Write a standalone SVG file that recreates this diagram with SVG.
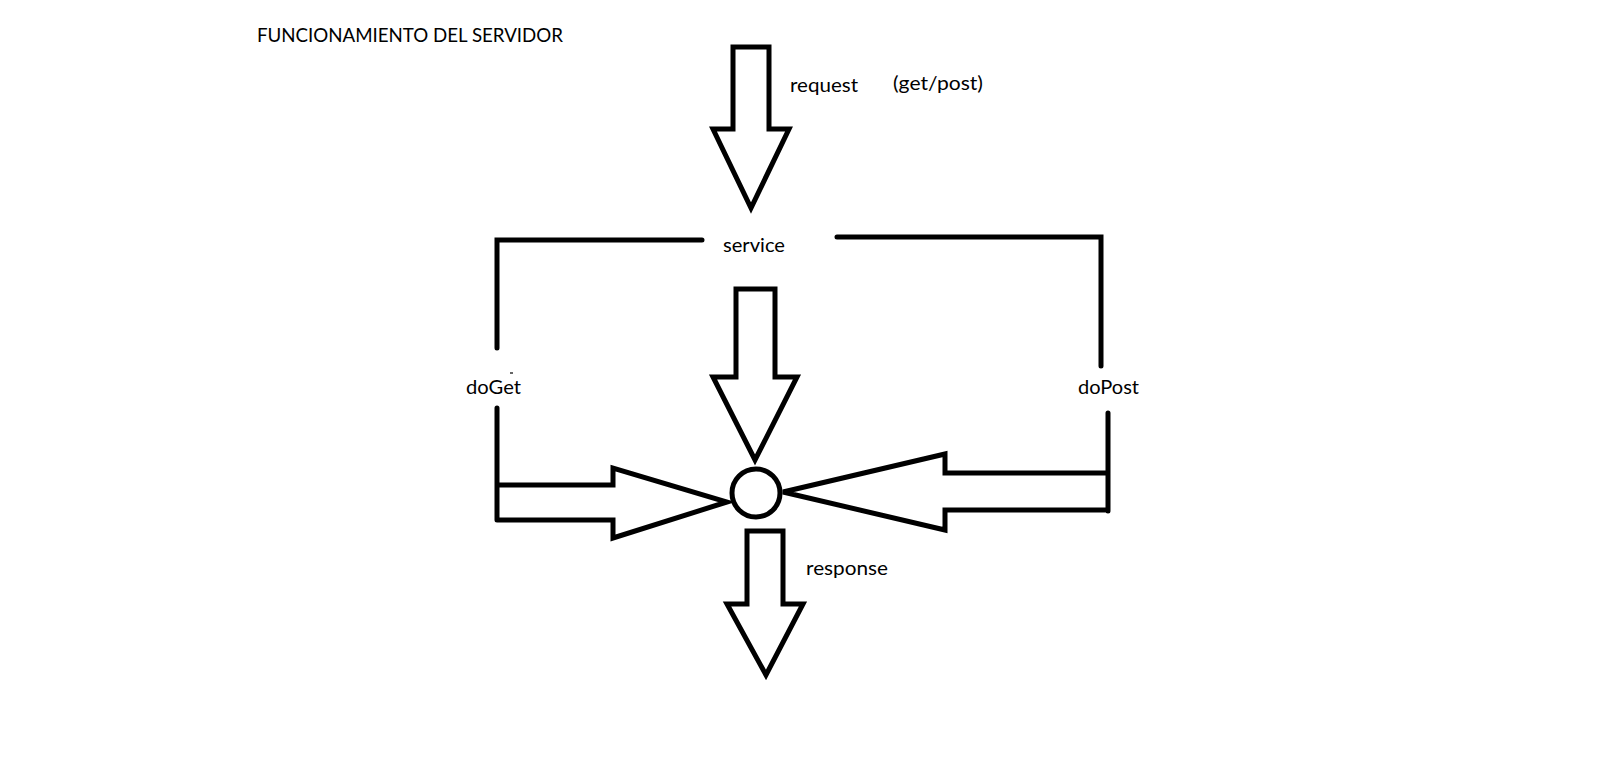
<svg xmlns="http://www.w3.org/2000/svg" width="1597" height="775" viewBox="0 0 1597 775">
  <style>
    .ln { fill: none; stroke: #000; stroke-width: 5; stroke-linejoin: miter; stroke-linecap: round; }
    .ar { fill: #fff; stroke: #000; stroke-width: 5; stroke-linejoin: miter; }
    .t { font-family: Lato, "Open Sans", "Liberation Sans", sans-serif; font-size: 19.5px; fill: #000; }
  </style>
  <rect width="1597" height="775" fill="#fff"/>
  <g id="title">
    <text class="t" x="257" y="42" textLength="306" lengthAdjust="spacingAndGlyphs">FUNCIONAMIENTO DEL SERVIDOR</text>
  </g>
  <g id="connectors">
    <polygon id="request-arrow" class="ar" points="733,47 769,47 769,129 789,129 751,208 713,129 733,129"/>
    <polyline id="bracket-left" class="ln" points="702,240 497,240 497,348"/>
    <polyline id="bracket-right" class="ln" points="837,237 1101,237 1101,366"/>
    <polygon id="service-arrow" class="ar" points="736,289 775,289 775,377 797,377 755,460 713,377 736,377"/>
    <path id="doget-arrow" class="ln" d="M497,408 V520 M497,485 H613 V468 L727,502 L613,538 V520 H497"/>
    <path id="dopost-arrow" class="ln" d="M1108,413 V511 M1108,473 H945 V454 L783,492 L945,530 V510 H1108"/>
    <polygon id="response-arrow" class="ar" points="747,531 783,531 783,604 803,604 766,675 727,604 747,604"/>
    <line x1="510" y1="373" x2="513" y2="373" style="stroke:#000;stroke-width:1.2"/>
  </g>
  <g id="node-request">
    <text class="t" x="790" y="92" textLength="68" lengthAdjust="spacingAndGlyphs">request</text>
    <text class="t" x="893" y="90" textLength="90" lengthAdjust="spacingAndGlyphs">(get/post)</text>
  </g>
  <g id="node-service">
    <text class="t" x="723" y="252" textLength="62" lengthAdjust="spacingAndGlyphs">service</text>
  </g>
  <g id="node-doget">
    <text class="t" x="466" y="394" textLength="55" lengthAdjust="spacingAndGlyphs">doGet</text>
  </g>
  <g id="node-dopost">
    <text class="t" x="1078" y="394" textLength="61" lengthAdjust="spacingAndGlyphs">doPost</text>
  </g>
  <g id="node-hub">
    <circle cx="756" cy="493" r="24" fill="#fff" stroke="#000" stroke-width="5"/>
  </g>
  <g id="node-response">
    <text class="t" x="806" y="575" textLength="82" lengthAdjust="spacingAndGlyphs">response</text>
  </g>
</svg>
